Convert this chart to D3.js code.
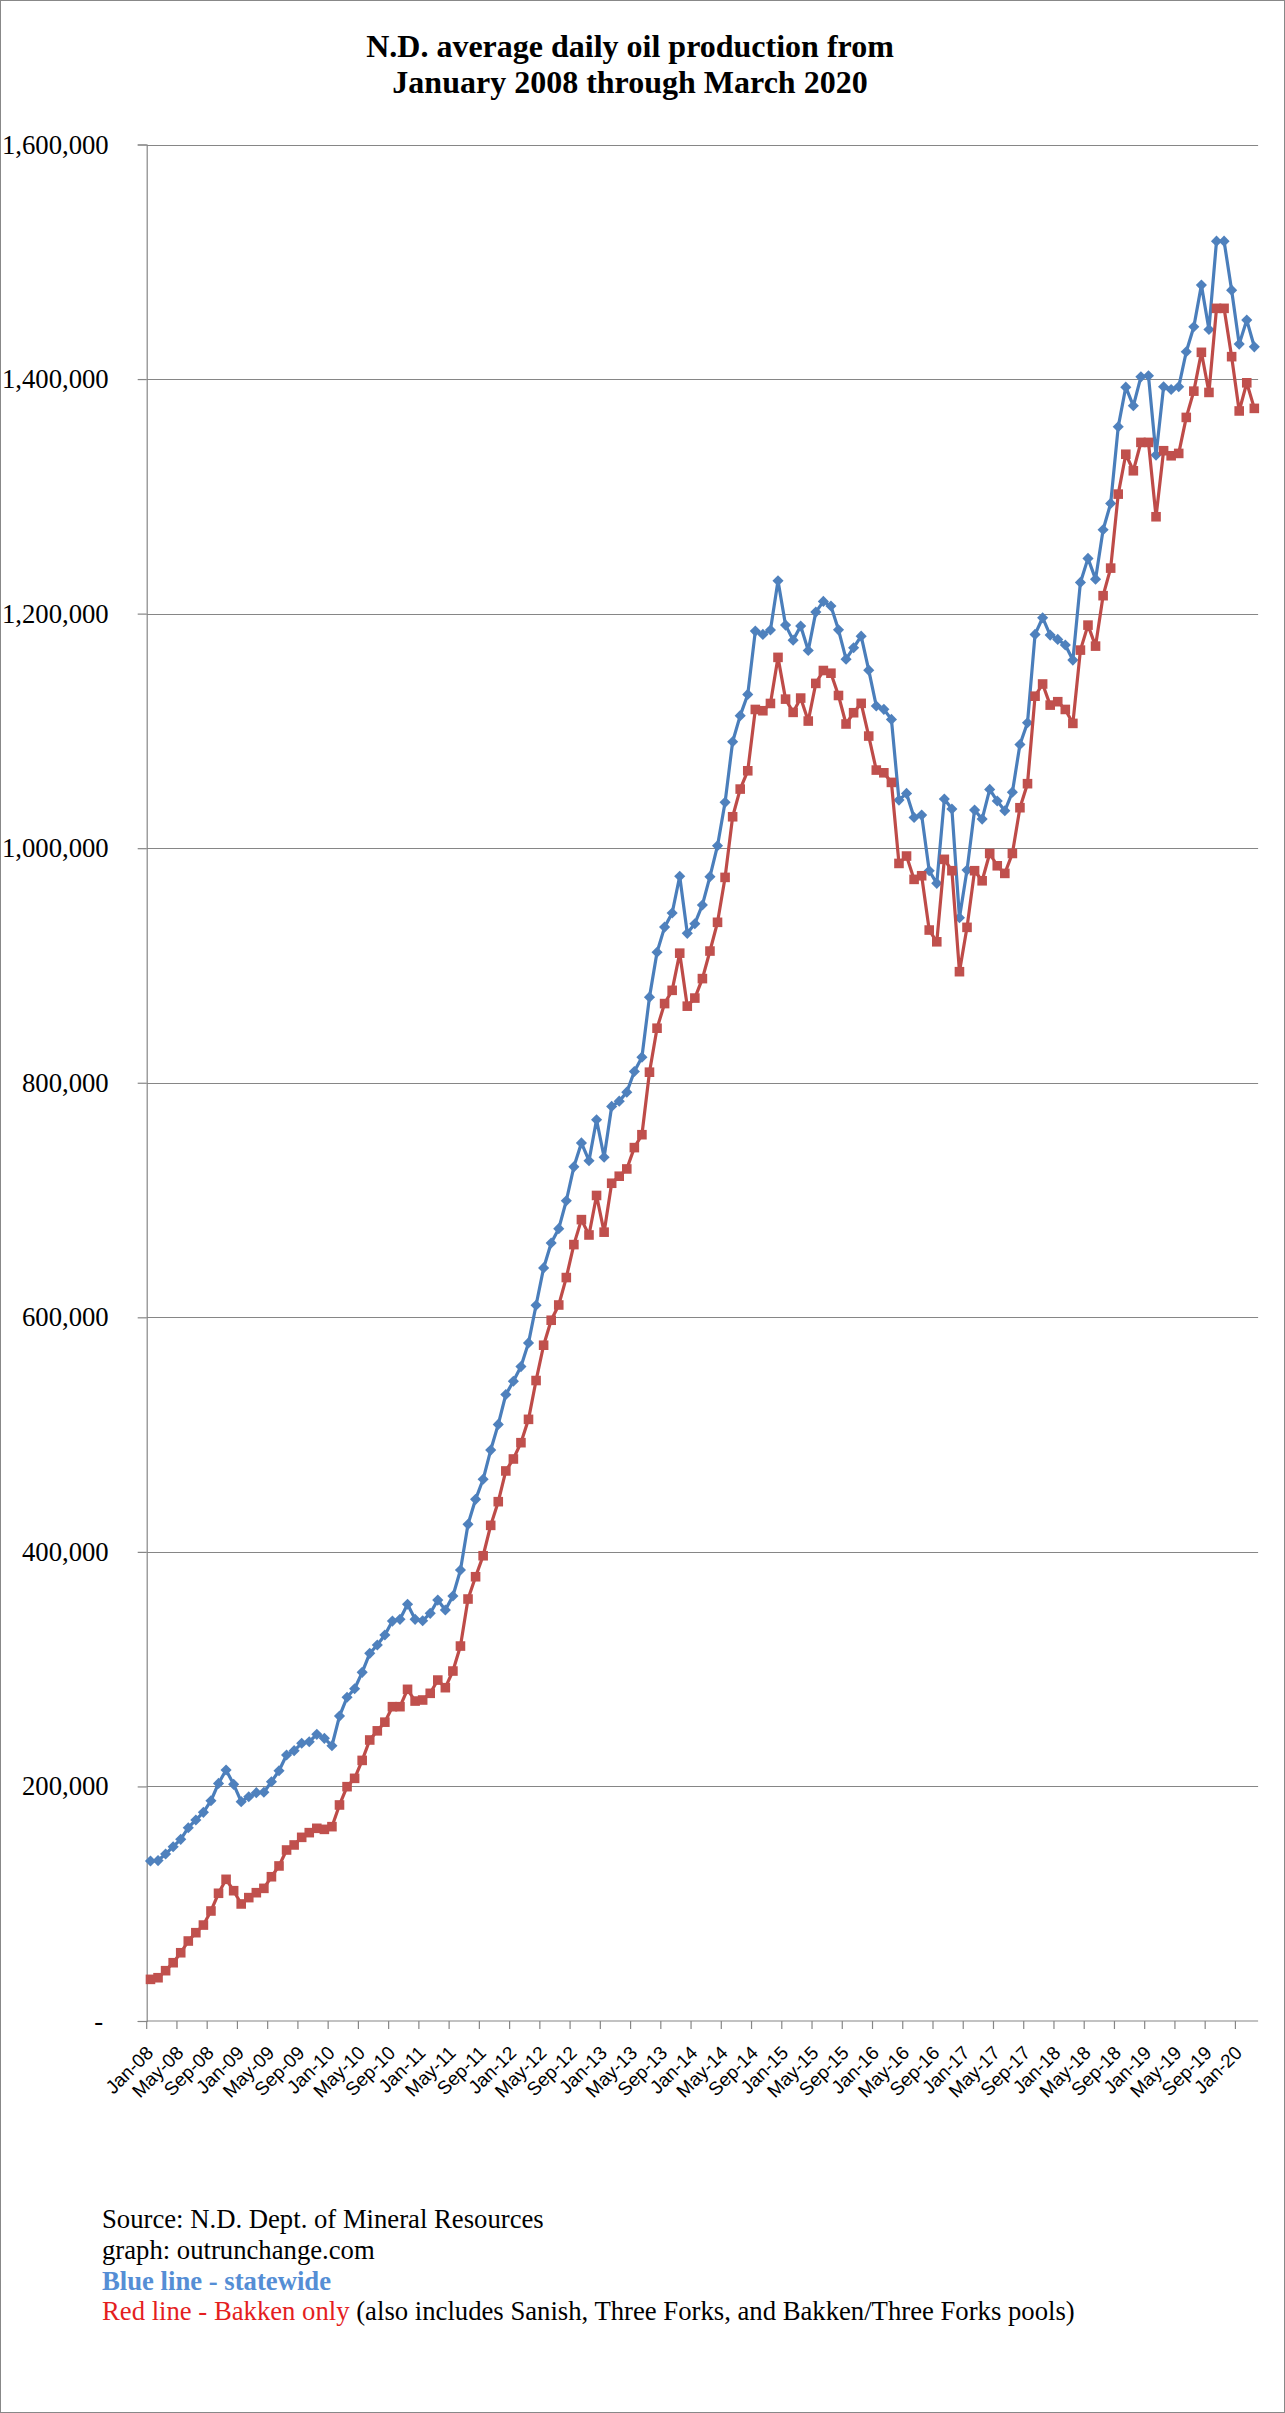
<!DOCTYPE html>
<html>
<head>
<meta charset="utf-8">
<script src="https://cdn.jsdelivr.net/npm/d3@7"></script>
<style>
  body { margin: 0; background: #fff; }
  svg { display: block; }
</style>
</head>
<body>
<div id="chart"></div>
<script>
// months Jan 2008 .. Mar 2020
const monthNames = ["Jan","Feb","Mar","Apr","May","Jun","Jul","Aug","Sep","Oct","Nov","Dec"];
const firstYear = 8, lastYear = 20, lastMonth = 3;

// statewide (blue), barrels per day
const statewide = [
  136400, 136800, 142400, 148600, 154900, 164800, 171400, 177900, 187800, 202600, 214000, 201800,
  187000, 191200, 194700, 195000, 204000, 213400, 226800, 230500, 236800, 238100, 244400, 241000,
  234700, 260000, 276000, 283300, 297300, 313500, 320600, 329100, 341000, 342500, 355300, 342500,
  341300, 347600, 358900, 350400, 362400, 384500, 423500, 444800, 461900, 486800, 508700, 534200,
  545500, 558000, 578200, 610300, 642100, 663400, 675600, 699400, 728300, 748700, 733500, 768500,
  736500, 779800, 784300, 792000, 809600, 821800, 873000, 911300, 932700, 944700, 976100, 927400,
  935600, 951600, 975700, 1002100, 1039100, 1090800, 1113000, 1131100, 1185100, 1182300, 1186000, 1228000,
  1190200, 1177400, 1189400, 1168600, 1201300, 1210400, 1206500, 1186200, 1161200, 1170900, 1180800, 1151800,
  1121200, 1118400, 1109800, 1041000, 1046700, 1026200, 1028200, 980800, 970000, 1041900, 1033400, 940700,
  981300, 1032500, 1024800, 1050100, 1040200, 1031900, 1047800, 1088400, 1107000, 1182300, 1196500, 1181700,
  1178000, 1173200, 1160400, 1226600, 1247100, 1229400, 1271500, 1294000, 1359300, 1393100, 1377200, 1401900,
  1402800, 1335200, 1393400, 1391100, 1393400, 1423300, 1444600, 1480100, 1442300, 1517600, 1517600, 1475800,
  1429800, 1450300, 1427500
];

// Bakken only (red)
const bakken = [
  35500, 36900, 42900, 49700, 58200, 68200, 75300, 81800, 93800, 108900, 120800, 111100,
  99800, 105200, 109400, 113100, 123000, 132200, 145800, 150100, 156600, 160600, 164300, 163400,
  165700, 184200, 199800, 206900, 222200, 239600, 247400, 254800, 268000, 268000, 282800, 272800,
  273700, 279400, 290700, 284200, 298400, 319700, 359800, 378800, 396700, 422600, 442800, 469000,
  479200, 493100, 513000, 546100, 576200, 597500, 610500, 633900, 662000, 683300, 670200, 703900,
  672600, 714300, 720300, 726500, 744700, 755700, 809000, 846500, 867500, 878800, 910500, 865300,
  872200, 888800, 912300, 936800, 975100, 1026800, 1050400, 1066000, 1118300, 1117200, 1123400, 1162700,
  1127100, 1115800, 1128000, 1108400, 1140500, 1151500, 1149200, 1130200, 1105900, 1115500, 1123500, 1095600,
  1066600, 1064300, 1056100, 987000, 993300, 973400, 976500, 930200, 920200, 990500, 980800, 894700,
  932500, 980800, 972200, 995500, 985000, 978500, 995500, 1034500, 1055000, 1129600, 1140000, 1122000,
  1124900, 1118300, 1106400, 1168900, 1190200, 1172300, 1215300, 1238800, 1301900, 1335900, 1321800, 1346000,
  1346000, 1282600, 1338900, 1334600, 1336600, 1367300, 1389700, 1422800, 1388600, 1460300, 1460300, 1419100,
  1372800, 1396800, 1375000
];

const yTicks = [0, 200000, 400000, 600000, 800000, 1000000, 1200000, 1400000, 1600000];
const titleLines = ["N.D. average daily oil production from", "January 2008 through March 2020"];

const categories = [];
for (let y = firstYear; y <= lastYear; y++) {
  monthNames.forEach((m, k) => {
    if (y === lastYear && k >= lastMonth) return;
    categories.push(m + "-" + String(y).padStart(2, "0"));
  });
}

const W = 1285, H = 2413;
const plot = { left: 146.7, right: 1258.1, top: 144.5, bottom: 2021 };

const svg = d3.select("#chart").append("svg")
  .attr("width", W)
  .attr("height", H);

svg.append("rect")
  .attr("x", 0.5).attr("y", 0.5)
  .attr("width", W - 1).attr("height", H - 1)
  .attr("fill", "#fff")
  .attr("stroke", "#888");

const x = d3.scaleBand().domain(categories).range([plot.left, plot.right]).padding(0);
const y = d3.scaleLinear().domain([0, 1600000]).range([plot.bottom, plot.top]);
const cx = d => x(d) + x.bandwidth() / 2;

// Excel style diamond: a square turned 45 degrees, size = area
const excelDiamond = {
  draw(context, size) {
    const r = Math.sqrt(size / 2);
    context.moveTo(0, -r);
    context.lineTo(r, 0);
    context.lineTo(0, r);
    context.lineTo(-r, 0);
    context.closePath();
  }
};

// title
svg.append("g").selectAll("text")
  .data(titleLines)
  .join("text")
  .attr("x", 630)
  .attr("y", (d, i) => 57 + i * 36)
  .attr("text-anchor", "middle")
  .style("font-family", "'Liberation Serif', 'Times New Roman', serif")
  .style("font-weight", "bold")
  .style("font-size", "32px")
  .text(d => d);

// gridlines
svg.append("g").selectAll("line")
  .data(yTicks.filter(d => d > 0))
  .join("line")
  .attr("x1", plot.left).attr("x2", plot.right)
  .attr("y1", d => Math.round(y(d)) + 0.5).attr("y2", d => Math.round(y(d)) + 0.5)
  .attr("stroke", "#868686").attr("stroke-width", 1.2);

// y axis
const yAxis = svg.append("g")
  .attr("transform", `translate(${plot.left},0)`)
  .call(d3.axisLeft(y).tickValues(yTicks).tickSize(9).tickPadding(29)
    .tickFormat(d => d === 0 ? "-" : d3.format(",")(d)));
yAxis.select(".domain").attr("stroke", "#868686").attr("stroke-width", 1.2);
yAxis.selectAll(".tick line").attr("stroke", "#868686").attr("stroke-width", 1.2);
yAxis.selectAll(".tick text")
  .style("font-family", "'Liberation Serif', 'Times New Roman', serif")
  .style("font-size", "26.7px")
  .attr("fill", "#000");
yAxis.selectAll(".tick").filter(d => d === 0).select("text")
  .attr("text-anchor", "middle").attr("x", -48);

// x axis
const xAxis = svg.append("g");
xAxis.append("line")
  .attr("x1", plot.left).attr("x2", plot.right)
  .attr("y1", plot.bottom).attr("y2", plot.bottom)
  .attr("stroke", "#868686").attr("stroke-width", 1.2);
const labelled = categories.filter((d, i) => i % 4 === 0);
xAxis.selectAll(".xtick")
  .data(labelled)
  .join("line")
  .attr("class", "xtick")
  .attr("x1", d => x(d)).attr("x2", d => x(d))
  .attr("y1", plot.bottom).attr("y2", plot.bottom + 8)
  .attr("stroke", "#868686").attr("stroke-width", 1.2);
xAxis.selectAll(".xlabel")
  .data(labelled)
  .join("text")
  .attr("class", "xlabel")
  .attr("transform", d => `translate(${cx(d) + 4},${plot.bottom + 33}) rotate(-45)`)
  .attr("text-anchor", "end")
  .style("font-family", "'Liberation Sans', Arial, sans-serif")
  .style("font-size", "19px")
  .text(d => d);

// series
function drawSeries(values, lineColor, markerColor, shape, size) {
  const line = d3.line().x((d, i) => cx(categories[i])).y(d => y(d));
  svg.append("path")
    .datum(values)
    .attr("fill", "none")
    .attr("stroke", lineColor)
    .attr("stroke-width", 3.2)
    .attr("stroke-linejoin", "round")
    .attr("d", line);
  svg.append("g").selectAll("path")
    .data(values)
    .join("path")
    .attr("transform", (d, i) => `translate(${cx(categories[i])},${y(d)})`)
    .attr("d", d3.symbol().type(shape).size(size))
    .attr("fill", markerColor);
}
drawSeries(statewide, "#4A7EBB", "#4F81BD", excelDiamond, 62);
drawSeries(bakken, "#BE4B48", "#C0504D", d3.symbolSquare, 92);

// notes
const notes = svg.append("g")
  .style("font-family", "'Liberation Serif', 'Times New Roman', serif")
  .style("font-size", "26.7px");
notes.append("text").attr("x", 102).attr("y", 2228).text("Source: N.D. Dept. of Mineral Resources");
notes.append("text").attr("x", 102).attr("y", 2259).text("graph: outrunchange.com");
notes.append("text").attr("x", 102).attr("y", 2290).attr("fill", "#558ED5")
  .style("font-weight", "bold").text("Blue line - statewide");
const red = notes.append("text").attr("x", 102).attr("y", 2320);
red.append("tspan").attr("fill", "#E41E1E").text("Red line - Bakken only");
red.append("tspan").attr("fill", "#000").text(" (also includes Sanish, Three Forks, and Bakken/Three Forks pools)");
</script>
</body>
</html>
